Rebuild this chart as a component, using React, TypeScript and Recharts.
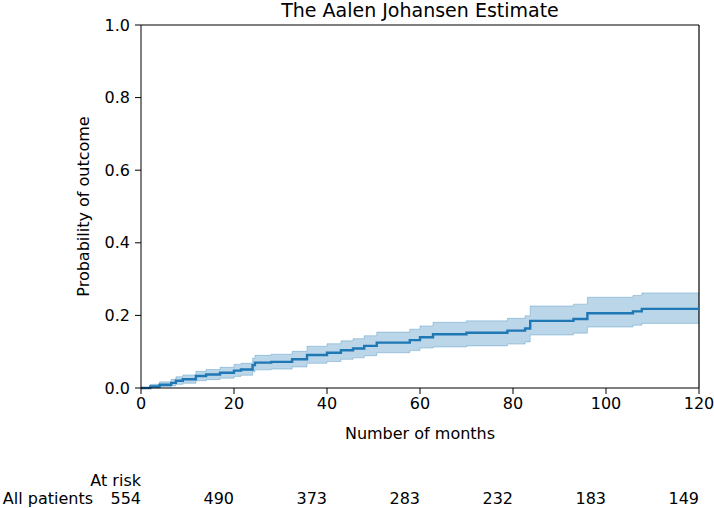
import React from "react";
import {
  ComposedChart,
  Area,
  Line,
  XAxis,
  YAxis,
  ReferenceLine,
} from "recharts";

// step times (months) and Aalen-Johansen estimate with confidence band
const times = [0, 2, 4, 6.5, 7.5, 9, 11.8, 14, 17, 20, 21.5, 24, 24.5, 28, 32.5, 35.7, 40, 43, 45.6, 48, 50.7, 57.8, 60, 62.8, 70, 78.8, 82.6, 83.7, 93, 96, 105.8, 107.7, 120];
const estimate = [0, 0.004, 0.009, 0.014, 0.02, 0.024, 0.033, 0.037, 0.042, 0.048, 0.051, 0.063, 0.07, 0.072, 0.079, 0.091, 0.097, 0.104, 0.109, 0.116, 0.125, 0.132, 0.14, 0.148, 0.152, 0.158, 0.164, 0.185, 0.19, 0.206, 0.211, 0.218, 0.218];
const lower = [0, 0.0, 0.003, 0.006, 0.01, 0.013, 0.02, 0.023, 0.027, 0.032, 0.035, 0.045, 0.05, 0.052, 0.058, 0.068, 0.073, 0.079, 0.083, 0.089, 0.097, 0.103, 0.11, 0.113, 0.116, 0.121, 0.127, 0.146, 0.151, 0.168, 0.173, 0.178, 0.178];
const upper = [0, 0.01, 0.017, 0.024, 0.031, 0.036, 0.046, 0.051, 0.057, 0.065, 0.068, 0.082, 0.09, 0.093, 0.101, 0.115, 0.122, 0.13, 0.136, 0.144, 0.154, 0.162, 0.171, 0.181, 0.185, 0.192, 0.199, 0.226, 0.231, 0.25, 0.255, 0.262, 0.262];

const xTicks = [0, 20, 40, 60, 80, 100, 120];
const yTicks = [0, 0.2, 0.4, 0.6, 0.8, 1.0];
const atRisk = [554, 490, 373, 283, 232, 183, 149];

const data = times.map((t, i) => ({
  t,
  est: estimate[i],
  band: [lower[i], upper[i]],
}));

const FONT = "DejaVu Sans";
const BLUE = "#1f77b4";

const RiskTick = (props: any) => {
  const { x, y, payload, index } = props;
  const idx = xTicks.indexOf(payload.value);
  return (
    <g>
      {index === 0 && (
        <>
          <text x={x} y={y + 38} textAnchor="end" fontSize={16} fill="#000" fontFamily={FONT}>
            At risk
          </text>
          <text x={x - 48} y={y + 56} textAnchor="end" fontSize={16} fill="#000" fontFamily={FONT}>
            All patients
          </text>
        </>
      )}
      <text x={x} y={y + 56} textAnchor="end" fontSize={16} fill="#000" fontFamily={FONT}>
        {atRisk[idx]}
      </text>
    </g>
  );
};

export default function App() {
  return (
    <div style={{ position: "absolute", left: 0, top: 0, width: 714, height: 508, fontFamily: FONT, background: "#fff" }}>
      <ComposedChart
        width={714}
        height={508}
        data={data}
        margin={{ top: 25, right: 15, left: 0, bottom: 0 }}
      >
        <XAxis
          dataKey="t"
          type="number"
          domain={[0, 120]}
          ticks={xTicks}
          allowDataOverflow
          stroke="#000"
          tickSize={6}
          tickMargin={4}
          height={60}
          tick={{ fill: "#000", fontSize: 16, fontFamily: FONT }}
          label={{ value: "Number of months", position: "insideBottom", offset: 9, fill: "#000", fontSize: 16, fontFamily: FONT }}
        />
        <XAxis
          xAxisId="risk"
          dataKey="t"
          type="number"
          domain={[0, 120]}
          ticks={xTicks}
          axisLine={false}
          tickLine={false}
          tickSize={0}
          tickMargin={0}
          height={60}
          tick={<RiskTick />}
        />
        <YAxis
          type="number"
          domain={[0, 1]}
          ticks={yTicks}
          width={141}
          stroke="#000"
          tickSize={6}
          tickMargin={5}
          tickFormatter={(v: number) => v.toFixed(1)}
          tick={{ fill: "#000", fontSize: 16, fontFamily: FONT }}
        />
        <ReferenceLine y={1} stroke="#000" strokeWidth={1.2} />
        <ReferenceLine x={120} stroke="#000" strokeWidth={1.2} />
        <Area
          type="stepAfter"
          dataKey="band"
          fill={BLUE}
          fillOpacity={0.3}
          stroke={BLUE}
          strokeOpacity={0.3}
          strokeWidth={1}
          isAnimationActive={false}
          dot={false}
          activeDot={false}
        />
        <Line
          type="stepAfter"
          dataKey="est"
          stroke={BLUE}
          strokeWidth={2.4}
          dot={false}
          activeDot={false}
          isAnimationActive={false}
        />
      </ComposedChart>
      <svg
        width={714}
        height={508}
        style={{ position: "absolute", left: 0, top: 0, pointerEvents: "none" }}
      >
        <text x={420} y={17} textAnchor="middle" fontSize={19} fill="#000" fontFamily={FONT}>
          The Aalen Johansen Estimate
        </text>
        <text
          x={0}
          y={0}
          transform="translate(89 206.5) rotate(-90)"
          textAnchor="middle"
          fontSize={16}
          fill="#000"
          fontFamily={FONT}
        >
          Probability of outcome
        </text>
      </svg>
    </div>
  );
}
